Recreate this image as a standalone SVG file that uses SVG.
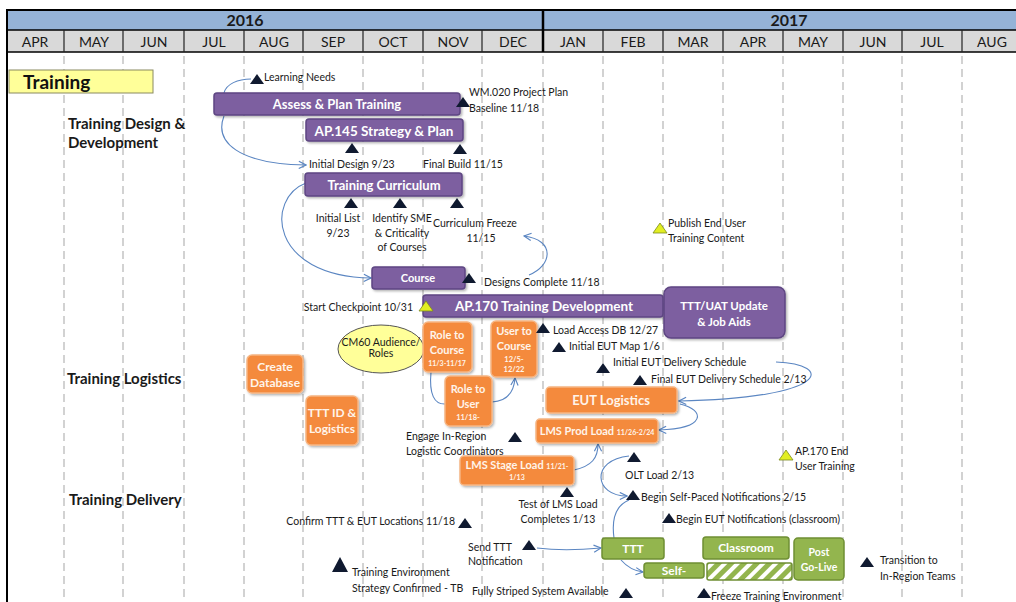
<svg xmlns="http://www.w3.org/2000/svg" width="1016" height="602" viewBox="0 0 1016 602">
  <style>
    .mon { font-family: Lato, "Liberation Sans", sans-serif; font-size: 14px; fill: #1a1a1a; text-anchor: middle; }
    .yr { font-family: Lato, "Liberation Sans", sans-serif; font-size: 16px; font-weight: bold; fill: #1a1a1a; text-anchor: middle; }
    .sec { font-family: Lato, "Liberation Sans", sans-serif; font-size: 15px; font-weight: bold; fill: #1a1a1a; }
    .lbl { font-family: Lato, "Liberation Sans", sans-serif; font-size: 10.5px; fill: #1a1a1a; }
    .mid { text-anchor: middle; }
    .end { text-anchor: end; }
    .bt { font-family: Lato, "Liberation Sans", sans-serif; font-weight: bold; fill: #ffffff; text-anchor: middle; }
    .ot { font-family: Lato, "Liberation Sans", sans-serif; font-weight: bold; fill: #fff4ea; text-anchor: middle; }
    .purple { fill: #7d5fa0; stroke: #5e4683; stroke-width: 1.5; filter: url(#shadow); }
    .orange { fill: #f48a3c; stroke: #f6b583; stroke-width: 1.5; filter: url(#shadow); }
    .green { fill: #93b54e; stroke: #6f8f33; stroke-width: 1.5; }
    .grid { stroke: #c4c4c4; stroke-width: 1.5; stroke-dasharray: 8 5; }
    .conn { fill: none; stroke: #5b86c2; stroke-width: 1.1; }
    .arr { marker-end: url(#open); }
    .ms { fill: #101a30; }
    .msy { fill: #e2ee22; stroke: #7b8a1c; stroke-width: 0.8; }
  </style>
  <defs>
    <filter id="shadow" x="-10%" y="-20%" width="130%" height="160%">
      <feDropShadow dx="1.5" dy="1.5" stdDeviation="1.2" flood-color="#000" flood-opacity="0.3"/>
    </filter>
    <marker id="open" viewBox="0 0 10 10" refX="9" refY="5" markerWidth="9" markerHeight="9" orient="auto" markerUnits="userSpaceOnUse">
      <path d="M1,1 L9,5 L1,9" fill="none" stroke="#5b86c2" stroke-width="1.3"/>
    </marker>
    <path id="tri" d="M0,-10 L7,0 L-7,0 Z"/>
    <path id="triL" d="M0,-15 L8,0 L-8,0 Z"/>
    <pattern id="hatch" width="9" height="9" patternUnits="userSpaceOnUse" patternTransform="rotate(45)">
      <rect width="9" height="9" fill="#93b54e"/>
      <rect width="4" height="9" fill="#ffffff"/>
    </pattern>
  </defs>

  <rect x="0" y="0" width="1016" height="602" fill="#ffffff"/>

  <!-- timeline header -->
  <g id="header">
    <rect x="7" y="10" width="1012" height="20" fill="#95b3d7"/>
    <rect x="7" y="30" width="1012" height="22" fill="#d9d9d9"/>
    <line x1="7" y1="10" x2="1016" y2="10" stroke="#000" stroke-width="2"/>
    <line x1="7" y1="30" x2="1016" y2="30" stroke="#000" stroke-width="1.5"/>
    <line x1="7" y1="52" x2="1016" y2="52" stroke="#000" stroke-width="1.5"/>
    <line x1="7" y1="9" x2="7" y2="602" stroke="#000" stroke-width="2"/>
    <line x1="543" y1="10" x2="543" y2="52" stroke="#000" stroke-width="2.5"/>
    <g stroke="#222" stroke-width="1.2">
      <line x1="64" y1="30" x2="64" y2="52"/>
      <line x1="123" y1="30" x2="123" y2="52"/>
      <line x1="184" y1="30" x2="184" y2="52"/>
      <line x1="244" y1="30" x2="244" y2="52"/>
      <line x1="303" y1="30" x2="303" y2="52"/>
      <line x1="363" y1="30" x2="363" y2="52"/>
      <line x1="423" y1="30" x2="423" y2="52"/>
      <line x1="482" y1="30" x2="482" y2="52"/>
      <line x1="603" y1="30" x2="603" y2="52"/>
      <line x1="663" y1="30" x2="663" y2="52"/>
      <line x1="723" y1="30" x2="723" y2="52"/>
      <line x1="783" y1="30" x2="783" y2="52"/>
      <line x1="843" y1="30" x2="843" y2="52"/>
      <line x1="902" y1="30" x2="902" y2="52"/>
      <line x1="962" y1="30" x2="962" y2="52"/>
    </g>
    <text class="yr" x="245" y="26">2016</text>
    <text class="yr" x="789" y="26">2017</text>
    <text class="mon" x="35" y="47">APR</text>
    <text class="mon" x="94" y="47">MAY</text>
    <text class="mon" x="154" y="47">JUN</text>
    <text class="mon" x="214" y="47">JUL</text>
    <text class="mon" x="274" y="47">AUG</text>
    <text class="mon" x="333" y="47">SEP</text>
    <text class="mon" x="393" y="47">OCT</text>
    <text class="mon" x="453" y="47">NOV</text>
    <text class="mon" x="513" y="47">DEC</text>
    <text class="mon" x="573" y="47">JAN</text>
    <text class="mon" x="633" y="47">FEB</text>
    <text class="mon" x="693" y="47">MAR</text>
    <text class="mon" x="753" y="47">APR</text>
    <text class="mon" x="813" y="47">MAY</text>
    <text class="mon" x="873" y="47">JUN</text>
    <text class="mon" x="932" y="47">JUL</text>
    <text class="mon" x="992" y="47">AUG</text>
  </g>

  <!-- month gridlines -->
  <g id="gridlines" class="grid">
    <line x1="64" y1="56" x2="64" y2="602"/>
    <line x1="123" y1="56" x2="123" y2="602"/>
    <line x1="184" y1="56" x2="184" y2="602"/>
    <line x1="244" y1="56" x2="244" y2="602"/>
    <line x1="303" y1="56" x2="303" y2="602"/>
    <line x1="363" y1="56" x2="363" y2="602"/>
    <line x1="423" y1="56" x2="423" y2="602"/>
    <line x1="482" y1="56" x2="482" y2="602"/>
    <line x1="543" y1="56" x2="543" y2="602"/>
    <line x1="603" y1="56" x2="603" y2="602"/>
    <line x1="663" y1="56" x2="663" y2="602"/>
    <line x1="723" y1="56" x2="723" y2="602"/>
    <line x1="783" y1="56" x2="783" y2="602"/>
    <line x1="843" y1="56" x2="843" y2="602"/>
    <line x1="902" y1="56" x2="902" y2="602"/>
    <line x1="962" y1="56" x2="962" y2="602"/>
  </g>

  <!-- section titles -->
  <g id="title">
    <rect x="9" y="70" width="144" height="23" fill="#ffff99" stroke="#8a8a60" stroke-width="1"/>
    <text x="23" y="89" font-family="Lato, 'Liberation Sans', sans-serif" font-size="19" font-weight="bold" fill="#111">Training</text>
  </g>
  <g id="lane-design">
    <text class="sec" x="68" y="129">Training Design &amp;</text>
    <text class="sec" x="68" y="148">Development</text>
  </g>
  <g id="lane-logistics"><text class="sec" x="67" y="384">Training Logistics</text></g>
  <g id="lane-delivery"><text class="sec" x="69" y="505">Training Delivery</text></g>

  <!-- connectors -->
  <g id="connectors">
    <path class="conn" d="M224,93 C226,84 238,79 251,79"/>
    <path class="conn arr" d="M224,116 C214,142 238,164 306,165"/>
    <path class="conn arr" d="M306,183 C266,198 268,276 371,278"/>
    <path class="conn arr" d="M529,275 C552,266 556,240 524,236"/>
    <path class="conn" d="M425,351 L423,351" stroke="#6aa33a"/>
    <path class="conn" d="M431,372 C429,394 434,405 446,404"/>
    <path class="conn arr" d="M492,402 C508,401 514,392 515,378"/>
    <path class="conn arr" d="M776,362 C834,364 832,398 679,401"/>
    <path class="conn arr" d="M680,404 C706,410 706,429 659,430"/>
    <path class="conn arr" d="M574,470 C592,466 598,458 598,444"/>
    <path class="conn arr" d="M629,456 C590,460 594,496 627,496"/>
    <path class="conn" d="M614,538 C611,516 617,505 629,500"/>
    <path class="conn arr" d="M537,548 C560,551 580,550 601,548"/>
    <path class="conn arr" d="M621,560 C628,568 634,571 643,572"/>
  </g>

  <!-- design & development bars -->
  <g id="assess-plan">
    <rect class="purple" x="214" y="93" width="246" height="22" rx="3"/>
    <text class="bt" x="337" y="109" font-size="13">Assess &amp; Plan Training</text>
  </g>
  <g id="ap145">
    <rect class="purple" x="306" y="119" width="157" height="22" rx="3"/>
    <text class="bt" x="384" y="136" font-size="13.5">AP.145 Strategy &amp; Plan</text>
  </g>
  <g id="curriculum">
    <rect class="purple" x="305" y="173" width="157" height="23" rx="3"/>
    <text class="bt" x="384" y="190" font-size="13">Training Curriculum</text>
  </g>
  <g id="course">
    <rect class="purple" x="372" y="267" width="93" height="22" rx="3"/>
    <text class="bt" x="418" y="282" font-size="11">Course</text>
  </g>
  <g id="ap170">
    <rect class="purple" x="423" y="295" width="240" height="22" rx="3"/>
    <text class="bt" x="544" y="311" font-size="13.5">AP.170 Training Development</text>
  </g>
  <g id="ttt-uat">
    <rect class="purple" x="664" y="287" width="121" height="51" rx="7"/>
    <text class="bt" x="724" y="310" font-size="11.5">TTT/UAT Update</text>
    <text class="bt" x="724" y="326" font-size="11.5">&amp; Job Aids</text>
  </g>

  <!-- logistics nodes -->
  <g id="create-db">
    <rect class="orange" x="247" y="355" width="56" height="38" rx="5"/>
    <text class="ot" x="275" y="371" font-size="12">Create</text>
    <text class="ot" x="275" y="387" font-size="12">Database</text>
  </g>
  <g id="ttt-id">
    <rect class="orange" x="306" y="396" width="52" height="49" rx="5"/>
    <text class="ot" x="332" y="417" font-size="12">TTT ID &amp;</text>
    <text class="ot" x="332" y="433" font-size="12">Logistics</text>
  </g>
  <g id="cm60">
    <ellipse cx="381" cy="349" rx="43" ry="24" fill="#ffff99" stroke="#555" stroke-width="1"/>
    <text class="lbl mid" x="381" y="346" font-size="7.5">CM60 Audience/</text>
    <text class="lbl mid" x="381" y="357" font-size="7.5">Roles</text>
  </g>
  <g id="role-course">
    <rect class="orange" x="423" y="322" width="49" height="50" rx="5"/>
    <text class="ot" x="447" y="339" font-size="11">Role to</text>
    <text class="ot" x="447" y="354" font-size="11">Course</text>
    <text class="ot" x="447" y="366" font-size="7">11/3-11/17</text>
  </g>
  <g id="user-course">
    <rect class="orange" x="491" y="321" width="46" height="56" rx="5"/>
    <text class="ot" x="514" y="335" font-size="11">User to</text>
    <text class="ot" x="514" y="350" font-size="11">Course</text>
    <text class="ot" x="514" y="362" font-size="7.5">12/5-</text>
    <text class="ot" x="514" y="372" font-size="7.5">12/22</text>
  </g>
  <g id="role-user">
    <rect class="orange" x="445" y="376" width="47" height="50" rx="5"/>
    <text class="ot" x="468" y="393" font-size="11">Role to</text>
    <text class="ot" x="468" y="408" font-size="11">User</text>
    <text class="ot" x="468" y="420" font-size="7.5">11/18-</text>
  </g>
  <g id="eut-logistics">
    <rect class="orange" x="546" y="387" width="131" height="26" rx="4"/>
    <text class="ot" x="611" y="405" font-size="13">EUT Logistics</text>
  </g>
  <g id="lms-prod">
    <rect class="orange" x="536" y="419" width="122" height="24" rx="4"/>
    <text class="ot" x="597" y="435" font-size="11">LMS Prod Load <tspan font-size="7">11/26-2/24</tspan></text>
  </g>
  <g id="lms-stage">
    <rect class="orange" x="460" y="456" width="114" height="29" rx="4"/>
    <text class="ot" x="517" y="469" font-size="11">LMS Stage Load <tspan font-size="7">11/21-</tspan></text>
    <text class="ot" x="517" y="480" font-size="7">1/13</text>
  </g>

  <!-- delivery nodes -->
  <g id="ttt">
    <rect class="green" x="602" y="538" width="62" height="21" rx="3"/>
    <text class="bt" x="633" y="553" font-size="12">TTT</text>
  </g>
  <g id="self-paced">
    <rect class="green" x="644" y="563" width="60" height="15" rx="3"/>
    <text class="bt" x="674" y="575" font-size="12">Self-</text>
  </g>
  <g id="classroom">
    <rect class="green" x="703" y="537" width="86" height="22" rx="3"/>
    <text class="bt" x="746" y="552" font-size="12">Classroom</text>
  </g>
  <g id="classroom-hatch">
    <rect x="707" y="563" width="85" height="17" rx="2" fill="url(#hatch)" stroke="#6f8f33" stroke-width="1.5"/>
  </g>
  <g id="post-go-live">
    <rect class="green" x="794" y="538" width="50" height="42" rx="4"/>
    <text class="bt" x="819" y="556" font-size="10.5">Post</text>
    <text class="bt" x="819" y="571" font-size="10.5">Go-Live</text>
  </g>

  <!-- milestones -->
  <g id="m-learning"><use href="#tri" class="ms" x="257" y="84"/><text class="lbl" x="264" y="81">Learning Needs</text></g>
  <g id="m-wm020"><use href="#tri" class="ms" x="463" y="107"/><text class="lbl" x="469" y="96">WM.020 Project Plan</text><text class="lbl" x="469" y="112">Baseline 11/18</text></g>
  <g id="m-initial-design"><use href="#tri" class="ms" x="352" y="153"/><text class="lbl" x="309" y="168">Initial Design 9/23</text></g>
  <g id="m-final-build"><use href="#tri" class="ms" x="460" y="154"/><text class="lbl" x="423" y="168">Final Build 11/15</text></g>
  <g id="m-initial-list"><use href="#tri" class="ms" x="351" y="208"/><text class="lbl mid" x="338" y="222">Initial List</text><text class="lbl mid" x="338" y="237">9/23</text></g>
  <g id="m-identify-sme"><use href="#tri" class="ms" x="400" y="208"/><text class="lbl mid" x="402" y="222">Identify SME</text><text class="lbl mid" x="402" y="237">&amp; Criticality</text><text class="lbl mid" x="402" y="251">of Courses</text></g>
  <g id="m-curric-freeze"><use href="#tri" class="ms" x="457" y="208"/><text class="lbl" x="433" y="227">Curriculum Freeze</text><text class="lbl mid" x="481" y="242">11/15</text></g>
  <g id="m-designs-complete"><use href="#tri" class="ms" x="469" y="283"/><text class="lbl" x="484" y="286">Designs Complete 11/18</text></g>
  <g id="m-start-checkpoint"><use href="#tri" class="msy" x="426" y="311"/><text class="lbl end" x="413" y="311">Start Checkpoint 10/31</text></g>
  <g id="m-publish"><use href="#tri" class="msy" x="660" y="233"/><text class="lbl" x="668" y="227">Publish End User</text><text class="lbl" x="668" y="242">Training Content</text></g>
  <g id="m-load-access"><use href="#tri" class="ms" x="543" y="333"/><text class="lbl" x="553" y="334">Load Access DB 12/27</text></g>
  <g id="m-eut-map"><use href="#tri" class="ms" x="559" y="352"/><text class="lbl" x="569" y="350">Initial EUT Map 1/6</text></g>
  <g id="m-eut-sched"><use href="#tri" class="ms" x="603" y="373"/><text class="lbl" x="613" y="366">Initial EUT Delivery Schedule</text></g>
  <g id="m-eut-final"><use href="#tri" class="ms" x="640" y="385"/><text class="lbl" x="651" y="383">Final EUT Delivery Schedule 2/13</text></g>
  <g id="m-engage"><use href="#tri" class="ms" x="515" y="442"/><text class="lbl" x="406" y="440">Engage In-Region</text><text class="lbl" x="406" y="455">Logistic Coordinators</text></g>
  <g id="m-ap170-end"><use href="#tri" class="msy" x="786" y="460"/><text class="lbl" x="795" y="455">AP.170 End</text><text class="lbl" x="795" y="470">User Training</text></g>
  <g id="m-olt"><use href="#tri" class="ms" x="634" y="462"/><text class="lbl" x="625" y="479">OLT Load 2/13</text></g>
  <g id="m-test-lms"><use href="#tri" class="ms" x="567" y="497"/><text class="lbl mid" x="558" y="508">Test of LMS Load</text><text class="lbl mid" x="558" y="523">Completes 1/13</text></g>
  <g id="m-self-paced-notif"><use href="#tri" class="ms" x="633" y="500"/><text class="lbl" x="641" y="501">Begin Self-Paced Notifications 2/15</text></g>
  <g id="m-eut-notif"><use href="#tri" class="ms" x="669" y="523"/><text class="lbl" x="676" y="523">Begin EUT Notifications (classroom)</text></g>
  <g id="m-confirm"><use href="#tri" class="ms" x="465" y="528"/><text class="lbl end" x="455" y="525">Confirm TTT &amp; EUT Locations 11/18</text></g>
  <g id="m-send-ttt"><use href="#tri" class="ms" x="529" y="550"/><text class="lbl" x="468" y="551">Send TTT</text><text class="lbl" x="468" y="565">Notification</text></g>
  <g id="m-env-strategy"><use href="#triL" class="ms" x="340" y="572"/><text class="lbl" x="352" y="576">Training Environment</text><text class="lbl" x="352" y="592">Strategy Confirmed - TB</text></g>
  <g id="m-striped"><use href="#tri" class="ms" x="626" y="598"/><text class="lbl" x="472" y="595">Fully Striped System Available</text></g>
  <g id="m-freeze"><use href="#tri" class="ms" x="704" y="598"/><text class="lbl" x="711" y="600">Freeze Training Environment</text></g>
  <g id="m-transition"><use href="#tri" class="ms" x="867" y="567"/><text class="lbl" x="880" y="564">Transition to</text><text class="lbl" x="880" y="580">In-Region Teams</text></g>
</svg>
